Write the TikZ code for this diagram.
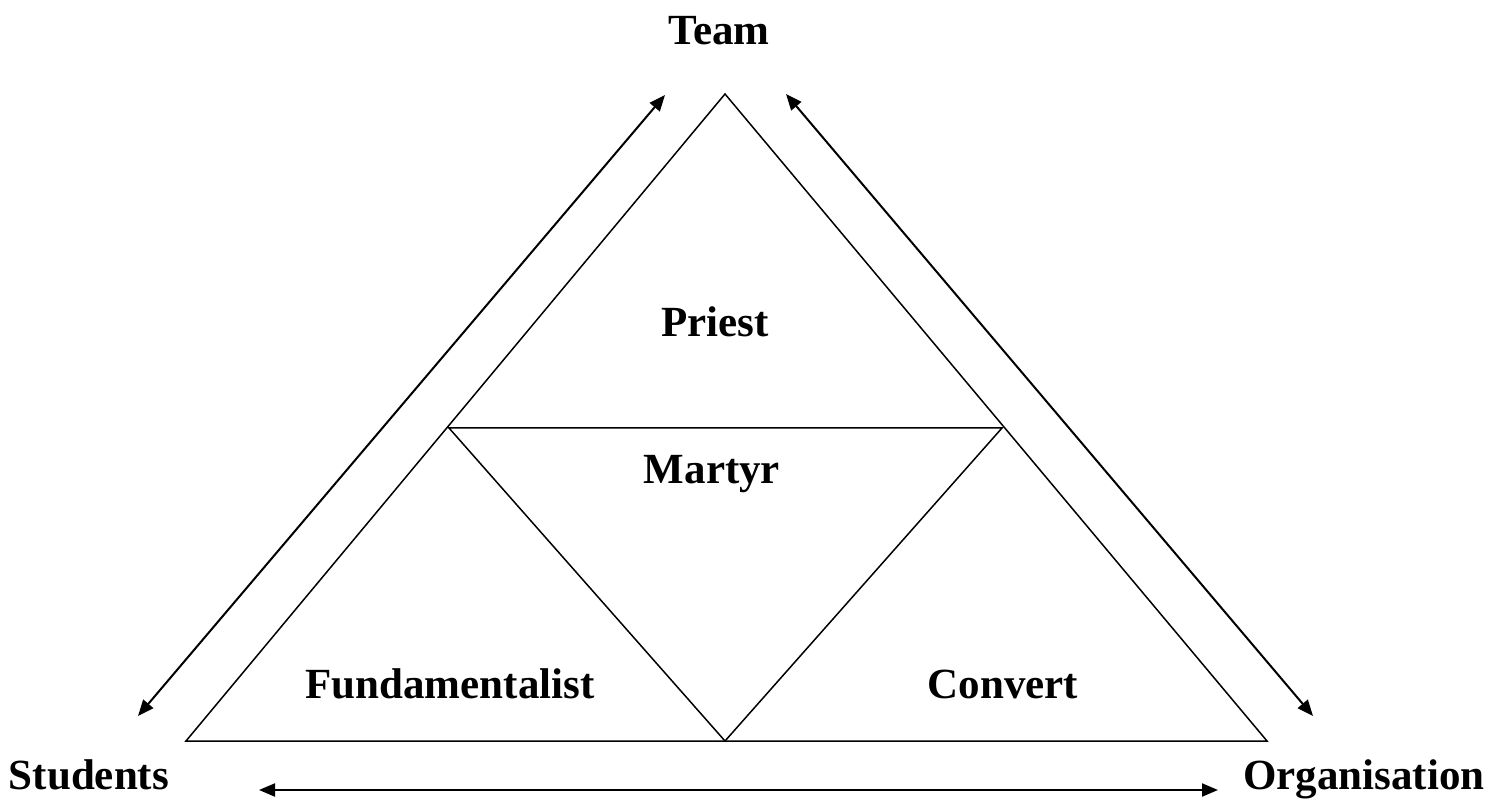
\documentclass[tikz,border=0pt]{standalone}
\usepackage{fontspec}
\setmainfont{Liberation Serif}
\usetikzlibrary{positioning,calc,arrows.meta}
\tikzset{
  figfont/.style={font=\fontsize{21.5}{25}\selectfont\bfseries},
  figline/.style={line width=0.75pt, line join=miter},
  figarrow/.style={{Triangle[length=8pt,width=6.5pt]}-{Triangle[length=8pt,width=6.5pt]}, line width=1pt},
}
\begin{document}
\begin{tikzpicture}[figfont, x=0.5pt, y=-0.5pt]
  \useasboundingbox (0,0) rectangle (1498,801);

  % Outer triangle
  \coordinate (OT) at (725,94);
  \coordinate (OL) at (186,741);
  \coordinate (OR) at (1267,741);
  \draw[figline] (OT) -- (OL) -- (OR) -- cycle;

  % Inner triangle
  \coordinate (IL) at (449,428);
  \coordinate (IR) at (1002,428);
  \coordinate (IB) at (725,741);
  \draw[figline] (IL) -- (IR) -- (IB) -- cycle;

  % Corner labels
  \node[anchor=base] (team) at (719,45) {Team};
  \node[anchor=base] (students) at (89,789) {Students};
  \node[anchor=base] (org) at (1364,789) {Organisation};

  % Inner labels
  \node (priest) at (715,322) {Priest};
  \node (martyr) at (712,474) {Martyr};
  \node (fund) at (450,684) {Fundamentalist};
  \node (convert) at (1003,684) {Convert};

  % Arrow ends
  \coordinate (AL1) at (665,95);
  \coordinate (AL2) at (138,716);
  \coordinate (AR1) at (786,94);
  \coordinate (AR2) at (1313,716);
  \coordinate (AB1) at (259,790);
  \coordinate (AB2) at (1218,790);

  % Arrows
  \draw[figarrow] (AL1) -- (AL2);
  \draw[figarrow] (AR1) -- (AR2);
  \draw[figarrow] (AB1) -- (AB2);
\end{tikzpicture}
\end{document}
